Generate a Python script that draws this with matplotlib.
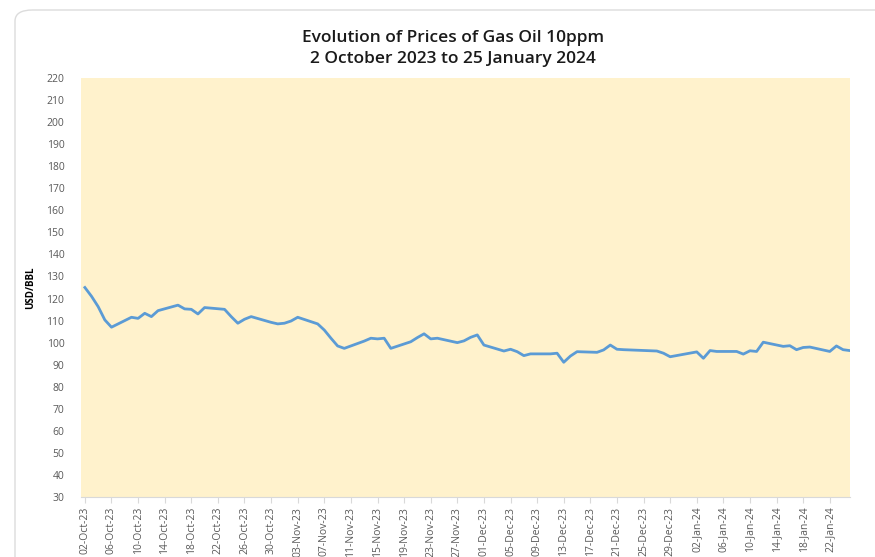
import matplotlib
matplotlib.use("Agg")
import matplotlib.pyplot as plt
import matplotlib.dates as mdates
from matplotlib.patches import FancyBboxPatch
import pandas as pd

# Gas Oil 10ppm prices, trading days only
dates = [
    "2023-10-02", "2023-10-03", "2023-10-04", "2023-10-05", "2023-10-06",
    "2023-10-09", "2023-10-10", "2023-10-11", "2023-10-12", "2023-10-13",
    "2023-10-16", "2023-10-17", "2023-10-18", "2023-10-19", "2023-10-20",
    "2023-10-23", "2023-10-24", "2023-10-25", "2023-10-26", "2023-10-27",
    "2023-10-30", "2023-10-31", "2023-11-01", "2023-11-02", "2023-11-03",
    "2023-11-06", "2023-11-07", "2023-11-08", "2023-11-09", "2023-11-10",
    "2023-11-13", "2023-11-14", "2023-11-15", "2023-11-16", "2023-11-17",
    "2023-11-20", "2023-11-21", "2023-11-22", "2023-11-23", "2023-11-24",
    "2023-11-27", "2023-11-28", "2023-11-29", "2023-11-30", "2023-12-01",
    "2023-12-04", "2023-12-05", "2023-12-06", "2023-12-07", "2023-12-08",
    "2023-12-11", "2023-12-12", "2023-12-13", "2023-12-14", "2023-12-15",
    "2023-12-18", "2023-12-19", "2023-12-20", "2023-12-21", "2023-12-22",
    "2023-12-27", "2023-12-28", "2023-12-29",
    "2024-01-02", "2024-01-03", "2024-01-04", "2024-01-05",
    "2024-01-08", "2024-01-09", "2024-01-10", "2024-01-11", "2024-01-12",
    "2024-01-15", "2024-01-16", "2024-01-17", "2024-01-18", "2024-01-19",
    "2024-01-22", "2024-01-23", "2024-01-24", "2024-01-25",
]
prices = [
    125.0, 121.0, 116.3, 110.3, 107.0,
    111.5, 111.0, 113.3, 111.8, 114.5,
    117.0, 115.3, 115.1, 113.0, 115.9,
    115.1, 111.8, 108.8, 110.6, 111.8,
    109.2, 108.5, 108.8, 109.8, 111.5,
    108.5, 105.7, 102.0, 98.5, 97.4,
    100.7, 102.0, 101.7, 102.0, 97.4,
    100.4, 102.3, 104.0, 101.7, 102.0,
    100.0, 100.8, 102.4, 103.5, 98.9,
    96.2, 97.0, 95.9, 94.1, 94.9,
    94.9, 95.2, 91.1, 93.9, 95.9,
    95.6, 96.7, 98.9, 97.0, 96.8,
    96.2, 95.2, 93.6,
    95.8, 92.9, 96.4, 96.0,
    96.0, 94.8, 96.3, 96.0, 100.2,
    98.3, 98.6, 96.8, 97.8, 98.0,
    96.0, 98.5, 96.8, 96.4,
]
y_ticks = list(range(30, 230, 10))

x = pd.to_datetime(dates)
start = pd.Timestamp("2023-10-02")
end = pd.Timestamp("2024-01-25")

fig = plt.figure(figsize=(8.75, 5.57), dpi=100)
fig.patch.set_facecolor("white")

# card border behind the chart
card = FancyBboxPatch((15 / 875, -0.05), 1.2, 1.0 - 10 / 557 + 0.05,
                      boxstyle="round,pad=0,rounding_size=0.02",
                      transform=fig.transFigure, facecolor="white",
                      edgecolor="#dcdcdc", linewidth=1.0, zorder=-10)
fig.patches.append(card)

ax = fig.add_axes([81 / 875, 1 - 497 / 557, (850 - 81) / 875, (497 - 78) / 557])
ax.set_zorder(5)
ax.set_facecolor("#FFF2CC")

ax.plot(x, prices, color="#5B9BD5", linewidth=2.0)

ax.set_ylim(30, 220)
ax.set_yticks(y_ticks)
ax.set_xlim(start - pd.Timedelta(hours=14), end + pd.Timedelta(hours=1))
ticks = pd.date_range(start, end, freq="4D")
ax.set_xticks(ticks)
ax.xaxis.set_major_formatter(mdates.DateFormatter("%d-%b-%y"))

for s in ["top", "right", "left"]:
    ax.spines[s].set_visible(False)
ax.spines["bottom"].set_color("#d9d9d9")
ax.tick_params(axis="y", length=0, labelsize=7.5, labelcolor="#595959", pad=12)
ax.tick_params(axis="x", length=4, color="#d9d9d9", labelsize=7.5,
               labelcolor="#595959", labelrotation=90, pad=3)
for lbl in ax.get_xticklabels() + ax.get_yticklabels():
    lbl.set_family("Open Sans")

ax.set_ylabel("USD/BBL", fontsize=7, fontweight="bold", family="Open Sans")
ax.yaxis.set_label_coords(-0.058, 0.5)

fig.text(453 / 875, 1 - 38 / 557, "Evolution of Prices of Gas Oil 10ppm",
         ha="center", va="center", fontsize=12.5, fontweight="semibold",
         family="Open Sans", color="#1a1a1a")
fig.text(453 / 875, 1 - 59 / 557, "2 October 2023 to 25 January 2024",
         ha="center", va="center", fontsize=12.5, fontweight="semibold",
         family="Open Sans", color="#1a1a1a")

fig.savefig("out.png", dpi=100, facecolor=fig.get_facecolor())
